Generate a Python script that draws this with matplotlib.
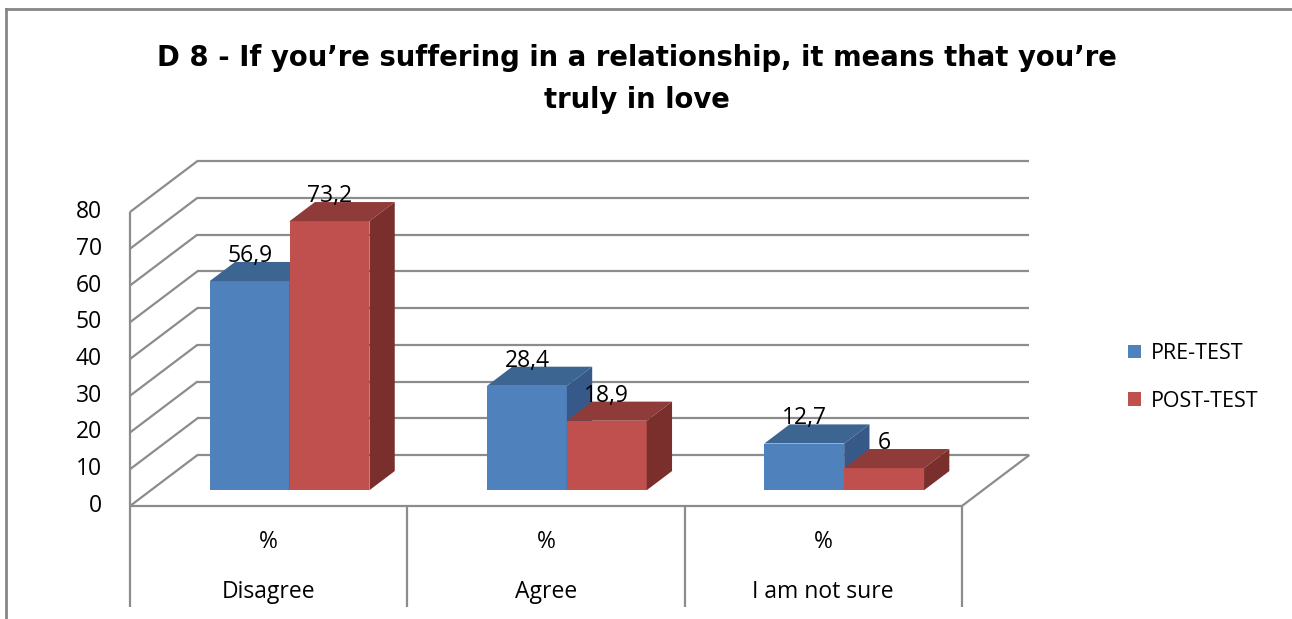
import matplotlib
matplotlib.use("Agg")
import matplotlib.pyplot as plt
from matplotlib.patches import Polygon, Patch
from matplotlib.lines import Line2D

plt.rcParams['font.family'] = ['Open Sans', 'DejaVu Sans']

# data
categories = ['Disagree', 'Agree', 'I am not sure']
sub_labels = ['%', '%', '%']
series = ['PRE-TEST', 'POST-TEST']
pre_test = [56.9, 28.4, 12.7]
post_test = [73.2, 18.9, 6]
yticks = [0, 10, 20, 30, 40, 50, 60, 70, 80]

title = 'D 8 - If you\u2019re suffering in a relationship, it means that you\u2019re\ntruly in love'

# colours: front / top / side faces
faces = {
    'PRE-TEST': ('#4f81bd', '#3d6592', '#36598a'),
    'POST-TEST': ('#c0504d', '#8f3b39', '#7a2f2d'),
}
grid_col = '#8c8c8c'
small = 16.5

# layout (pixels)
W, H = 1292, 619
X0, Y0 = 130, 506          # front-left corner of the floor
CAT_W = 277.3              # width of one category on the front plane
PX_PER_UNIT = 3.675        # vertical pixels per value unit
DEPTH_PX = (67.5, 51)      # front -> back wall offset

fig = plt.figure(figsize=(W / 100, H / 100), dpi=100)
ax = fig.add_axes([0, 0, 1, 1])
ax.set_xlim(-X0 / CAT_W, (W - X0) / CAT_W)
ax.set_ylim(-(H - Y0) / PX_PER_UNIT, Y0 / PX_PER_UNIT)
ax.axis('off')

DX = DEPTH_PX[0] / CAT_W
DY = DEPTH_PX[1] / PX_PER_UNIT
BAR_FRONT = 0.31
BAR_BACK = 0.685
BAR_W = 0.288
ncat = len(categories)
vmax = yticks[-1]


def P(x, v, f):
    return (x + f * DX, v + f * DY)


def line(pts, **kw):
    xs, ys = zip(*pts)
    ax.plot(xs, ys, color=grid_col, lw=1.6, solid_capstyle='butt', zorder=1, **kw)


# back wall gridlines + left side wall
for t in yticks:
    line([P(0, t, 1), P(ncat, t, 1)])
    line([P(0, t, 0), P(0, t, 1)])
line([P(0, 0, 0), P(0, vmax, 0)])
# floor front edge and right edge
line([P(0, 0, 0), P(ncat, 0, 0)])
line([P(ncat, 0, 0), P(ncat, 0, 1)])

# category table below the floor
table_bottom = -(607 - Y0) / PX_PER_UNIT
for i in range(ncat + 1):
    line([(i, 0), (i, table_bottom)])
for i, (c, s) in enumerate(zip(categories, sub_labels)):
    ax.text(i + 0.5, -(542 - Y0) / PX_PER_UNIT, s, ha='center', va='center', fontsize=small)
    ax.text(i + 0.5, -(592 - Y0) / PX_PER_UNIT, c, ha='center', va='center', fontsize=small)

# value axis labels
for t in yticks:
    ax.text(-(130 - 102) / CAT_W, t, str(t), ha='right', va='center', fontsize=small)


def bar(x0, v, cols, label):
    x1 = x0 + BAR_W
    front = [P(x0, 0, BAR_FRONT), P(x1, 0, BAR_FRONT), P(x1, v, BAR_FRONT), P(x0, v, BAR_FRONT)]
    top = [P(x0, v, BAR_FRONT), P(x1, v, BAR_FRONT), P(x1, v, BAR_BACK), P(x0, v, BAR_BACK)]
    side = [P(x1, 0, BAR_FRONT), P(x1, 0, BAR_BACK), P(x1, v, BAR_BACK), P(x1, v, BAR_FRONT)]
    ax.add_patch(Polygon(front, closed=True, fc=cols[0], ec='none', zorder=3, label=label))
    ax.add_patch(Polygon(top, closed=True, fc=cols[1], ec='none', zorder=3))
    ax.add_patch(Polygon(side, closed=True, fc=cols[2], ec='none', zorder=3))
    lx, ly = P(x0 + BAR_W / 2, v, BAR_BACK)
    ax.text(lx - (BAR_BACK - BAR_FRONT) * DX, ly, f'{v:g}'.replace('.', ','),
            ha='center', va='baseline', fontsize=small, zorder=5)


for i in range(ncat):
    c = i + 0.5
    bar(c - BAR_W, pre_test[i], faces['PRE-TEST'], 'PRE-TEST' if i == 0 else None)
    bar(c, post_test[i], faces['POST-TEST'], 'POST-TEST' if i == 0 else None)

handles = [Patch(fc=faces[s][0], ec='none', label=s) for s in series]
fig.legend(handles=handles, loc='upper left', bbox_to_anchor=(1128 / W, 1 - 343 / H),
           frameon=False, fontsize=15.5, handlelength=0.6, handleheight=0.6,
           handletextpad=0.45, labelspacing=1.25, borderpad=0, borderaxespad=0)

fig.text(637 / W, 1 - 79 / H, title, ha='center', va='center', fontsize=19.8,
         fontweight='bold', family=['DejaVu Sans'], linespacing=1.62)

# outer chart border (clipped at right and bottom)
fig.add_artist(Line2D([6 / W, 1], [1 - 9 / H, 1 - 9 / H], transform=fig.transFigure,
                      color='#868686', lw=2))
fig.add_artist(Line2D([6 / W, 6 / W], [0, 1 - 9 / H], transform=fig.transFigure,
                      color='#868686', lw=2))

fig.savefig('out.png', dpi=100, facecolor='white')
